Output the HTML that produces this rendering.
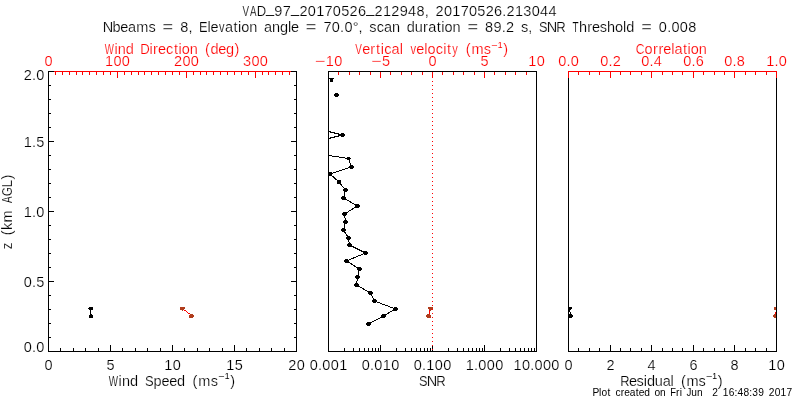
<!DOCTYPE html>
<html><head><meta charset="utf-8"><title>VAD plot</title>
<style>
html,body{margin:0;padding:0;background:#fff;width:800px;height:400px;overflow:hidden}
svg{display:block;will-change:transform}
text{font-family:"Liberation Sans",Arial,sans-serif;font-size:14.5px;font-kerning:none;font-variant-ligatures:none;stroke:#fff;stroke-width:0.2px;white-space:pre}
.u{stroke-width:0}
</style></head><body>
<svg width="800" height="400" viewBox="0 0 800 400">
<rect width="800" height="400" fill="#fff"/>
<g shape-rendering="crispEdges">
<rect x="48" y="71" width="1" height="281" fill="#000"/>
<rect x="296" y="71" width="1" height="281" fill="#000"/>
<rect x="48" y="351" width="249" height="1" fill="#000"/>
<rect x="48" y="71" width="249" height="1" fill="#000"/>
<rect x="328" y="71" width="1" height="281" fill="#000"/>
<rect x="536" y="71" width="1" height="281" fill="#000"/>
<rect x="328" y="351" width="209" height="1" fill="#000"/>
<rect x="328" y="71" width="209" height="1" fill="#000"/>
<rect x="568" y="71" width="1" height="281" fill="#000"/>
<rect x="776" y="71" width="1" height="281" fill="#000"/>
<rect x="568" y="351" width="209" height="1" fill="#000"/>
<rect x="568" y="71" width="209" height="1" fill="#000"/>
<rect x="49" y="337" width="2" height="1" fill="#000"/>
<rect x="294" y="337" width="2" height="1" fill="#000"/>
<rect x="49" y="323" width="2" height="1" fill="#000"/>
<rect x="294" y="323" width="2" height="1" fill="#000"/>
<rect x="49" y="309" width="2" height="1" fill="#000"/>
<rect x="294" y="309" width="2" height="1" fill="#000"/>
<rect x="49" y="295" width="2" height="1" fill="#000"/>
<rect x="294" y="295" width="2" height="1" fill="#000"/>
<rect x="49" y="281" width="5" height="1" fill="#000"/>
<rect x="291" y="281" width="5" height="1" fill="#000"/>
<rect x="49" y="267" width="2" height="1" fill="#000"/>
<rect x="294" y="267" width="2" height="1" fill="#000"/>
<rect x="49" y="253" width="2" height="1" fill="#000"/>
<rect x="294" y="253" width="2" height="1" fill="#000"/>
<rect x="49" y="239" width="2" height="1" fill="#000"/>
<rect x="294" y="239" width="2" height="1" fill="#000"/>
<rect x="49" y="225" width="2" height="1" fill="#000"/>
<rect x="294" y="225" width="2" height="1" fill="#000"/>
<rect x="49" y="211" width="5" height="1" fill="#000"/>
<rect x="291" y="211" width="5" height="1" fill="#000"/>
<rect x="49" y="197" width="2" height="1" fill="#000"/>
<rect x="294" y="197" width="2" height="1" fill="#000"/>
<rect x="49" y="183" width="2" height="1" fill="#000"/>
<rect x="294" y="183" width="2" height="1" fill="#000"/>
<rect x="49" y="169" width="2" height="1" fill="#000"/>
<rect x="294" y="169" width="2" height="1" fill="#000"/>
<rect x="49" y="155" width="2" height="1" fill="#000"/>
<rect x="294" y="155" width="2" height="1" fill="#000"/>
<rect x="49" y="141" width="5" height="1" fill="#000"/>
<rect x="291" y="141" width="5" height="1" fill="#000"/>
<rect x="49" y="127" width="2" height="1" fill="#000"/>
<rect x="294" y="127" width="2" height="1" fill="#000"/>
<rect x="49" y="113" width="2" height="1" fill="#000"/>
<rect x="294" y="113" width="2" height="1" fill="#000"/>
<rect x="49" y="99" width="2" height="1" fill="#000"/>
<rect x="294" y="99" width="2" height="1" fill="#000"/>
<rect x="49" y="85" width="2" height="1" fill="#000"/>
<rect x="294" y="85" width="2" height="1" fill="#000"/>
<rect x="60" y="348" width="1" height="3" fill="#000"/>
<rect x="73" y="348" width="1" height="3" fill="#000"/>
<rect x="85" y="348" width="1" height="3" fill="#000"/>
<rect x="98" y="348" width="1" height="3" fill="#000"/>
<rect x="110" y="345" width="1" height="6" fill="#000"/>
<rect x="122" y="348" width="1" height="3" fill="#000"/>
<rect x="135" y="348" width="1" height="3" fill="#000"/>
<rect x="147" y="348" width="1" height="3" fill="#000"/>
<rect x="160" y="348" width="1" height="3" fill="#000"/>
<rect x="172" y="345" width="1" height="6" fill="#000"/>
<rect x="184" y="348" width="1" height="3" fill="#000"/>
<rect x="197" y="348" width="1" height="3" fill="#000"/>
<rect x="209" y="348" width="1" height="3" fill="#000"/>
<rect x="222" y="348" width="1" height="3" fill="#000"/>
<rect x="234" y="345" width="1" height="6" fill="#000"/>
<rect x="246" y="348" width="1" height="3" fill="#000"/>
<rect x="259" y="348" width="1" height="3" fill="#000"/>
<rect x="271" y="348" width="1" height="3" fill="#000"/>
<rect x="284" y="348" width="1" height="3" fill="#000"/>
<rect x="54" y="71" width="237" height="1" fill="#ff0000"/>
<rect x="55" y="72" width="1" height="3" fill="#ff0000"/>
<rect x="62" y="72" width="1" height="3" fill="#ff0000"/>
<rect x="69" y="72" width="1" height="3" fill="#ff0000"/>
<rect x="76" y="72" width="1" height="3" fill="#ff0000"/>
<rect x="82" y="72" width="1" height="3" fill="#ff0000"/>
<rect x="89" y="72" width="1" height="3" fill="#ff0000"/>
<rect x="96" y="72" width="1" height="3" fill="#ff0000"/>
<rect x="103" y="72" width="1" height="3" fill="#ff0000"/>
<rect x="110" y="72" width="1" height="3" fill="#ff0000"/>
<rect x="117" y="72" width="1" height="6" fill="#ff0000"/>
<rect x="124" y="72" width="1" height="3" fill="#ff0000"/>
<rect x="131" y="72" width="1" height="3" fill="#ff0000"/>
<rect x="138" y="72" width="1" height="3" fill="#ff0000"/>
<rect x="144" y="72" width="1" height="3" fill="#ff0000"/>
<rect x="151" y="72" width="1" height="3" fill="#ff0000"/>
<rect x="158" y="72" width="1" height="3" fill="#ff0000"/>
<rect x="165" y="72" width="1" height="3" fill="#ff0000"/>
<rect x="172" y="72" width="1" height="3" fill="#ff0000"/>
<rect x="179" y="72" width="1" height="3" fill="#ff0000"/>
<rect x="186" y="72" width="1" height="6" fill="#ff0000"/>
<rect x="193" y="72" width="1" height="3" fill="#ff0000"/>
<rect x="200" y="72" width="1" height="3" fill="#ff0000"/>
<rect x="206" y="72" width="1" height="3" fill="#ff0000"/>
<rect x="213" y="72" width="1" height="3" fill="#ff0000"/>
<rect x="220" y="72" width="1" height="3" fill="#ff0000"/>
<rect x="227" y="72" width="1" height="3" fill="#ff0000"/>
<rect x="234" y="72" width="1" height="3" fill="#ff0000"/>
<rect x="241" y="72" width="1" height="3" fill="#ff0000"/>
<rect x="248" y="72" width="1" height="3" fill="#ff0000"/>
<rect x="255" y="72" width="1" height="6" fill="#ff0000"/>
<rect x="262" y="72" width="1" height="3" fill="#ff0000"/>
<rect x="268" y="72" width="1" height="3" fill="#ff0000"/>
<rect x="275" y="72" width="1" height="3" fill="#ff0000"/>
<rect x="282" y="72" width="1" height="3" fill="#ff0000"/>
<rect x="289" y="72" width="1" height="3" fill="#ff0000"/>
<rect x="344" y="348" width="1" height="3" fill="#000"/>
<rect x="353" y="348" width="1" height="3" fill="#000"/>
<rect x="359" y="348" width="1" height="3" fill="#000"/>
<rect x="364" y="348" width="1" height="3" fill="#000"/>
<rect x="368" y="348" width="1" height="3" fill="#000"/>
<rect x="372" y="348" width="1" height="3" fill="#000"/>
<rect x="375" y="348" width="1" height="3" fill="#000"/>
<rect x="378" y="348" width="1" height="3" fill="#000"/>
<rect x="380" y="345" width="1" height="6" fill="#000"/>
<rect x="396" y="348" width="1" height="3" fill="#000"/>
<rect x="405" y="348" width="1" height="3" fill="#000"/>
<rect x="411" y="348" width="1" height="3" fill="#000"/>
<rect x="416" y="348" width="1" height="3" fill="#000"/>
<rect x="420" y="348" width="1" height="3" fill="#000"/>
<rect x="424" y="348" width="1" height="3" fill="#000"/>
<rect x="427" y="348" width="1" height="3" fill="#000"/>
<rect x="430" y="348" width="1" height="3" fill="#000"/>
<rect x="432" y="345" width="1" height="6" fill="#000"/>
<rect x="448" y="348" width="1" height="3" fill="#000"/>
<rect x="457" y="348" width="1" height="3" fill="#000"/>
<rect x="463" y="348" width="1" height="3" fill="#000"/>
<rect x="468" y="348" width="1" height="3" fill="#000"/>
<rect x="472" y="348" width="1" height="3" fill="#000"/>
<rect x="476" y="348" width="1" height="3" fill="#000"/>
<rect x="479" y="348" width="1" height="3" fill="#000"/>
<rect x="482" y="348" width="1" height="3" fill="#000"/>
<rect x="484" y="345" width="1" height="6" fill="#000"/>
<rect x="500" y="348" width="1" height="3" fill="#000"/>
<rect x="509" y="348" width="1" height="3" fill="#000"/>
<rect x="515" y="348" width="1" height="3" fill="#000"/>
<rect x="520" y="348" width="1" height="3" fill="#000"/>
<rect x="524" y="348" width="1" height="3" fill="#000"/>
<rect x="528" y="348" width="1" height="3" fill="#000"/>
<rect x="531" y="348" width="1" height="3" fill="#000"/>
<rect x="534" y="348" width="1" height="3" fill="#000"/>
<rect x="338" y="72" width="1" height="3" fill="#ff0000"/>
<rect x="349" y="72" width="1" height="3" fill="#ff0000"/>
<rect x="359" y="72" width="1" height="3" fill="#ff0000"/>
<rect x="370" y="72" width="1" height="3" fill="#ff0000"/>
<rect x="380" y="72" width="1" height="6" fill="#ff0000"/>
<rect x="390" y="72" width="1" height="3" fill="#ff0000"/>
<rect x="401" y="72" width="1" height="3" fill="#ff0000"/>
<rect x="411" y="72" width="1" height="3" fill="#ff0000"/>
<rect x="422" y="72" width="1" height="3" fill="#ff0000"/>
<rect x="432" y="72" width="1" height="6" fill="#ff0000"/>
<rect x="442" y="72" width="1" height="3" fill="#ff0000"/>
<rect x="453" y="72" width="1" height="3" fill="#ff0000"/>
<rect x="463" y="72" width="1" height="3" fill="#ff0000"/>
<rect x="474" y="72" width="1" height="3" fill="#ff0000"/>
<rect x="484" y="72" width="1" height="6" fill="#ff0000"/>
<rect x="494" y="72" width="1" height="3" fill="#ff0000"/>
<rect x="505" y="72" width="1" height="3" fill="#ff0000"/>
<rect x="515" y="72" width="1" height="3" fill="#ff0000"/>
<rect x="526" y="72" width="1" height="3" fill="#ff0000"/>
<rect x="578" y="348" width="1" height="3" fill="#000"/>
<rect x="589" y="348" width="1" height="3" fill="#000"/>
<rect x="599" y="348" width="1" height="3" fill="#000"/>
<rect x="610" y="345" width="1" height="6" fill="#000"/>
<rect x="620" y="348" width="1" height="3" fill="#000"/>
<rect x="630" y="348" width="1" height="3" fill="#000"/>
<rect x="641" y="348" width="1" height="3" fill="#000"/>
<rect x="651" y="345" width="1" height="6" fill="#000"/>
<rect x="662" y="348" width="1" height="3" fill="#000"/>
<rect x="672" y="348" width="1" height="3" fill="#000"/>
<rect x="682" y="348" width="1" height="3" fill="#000"/>
<rect x="693" y="345" width="1" height="6" fill="#000"/>
<rect x="703" y="348" width="1" height="3" fill="#000"/>
<rect x="714" y="348" width="1" height="3" fill="#000"/>
<rect x="724" y="348" width="1" height="3" fill="#000"/>
<rect x="734" y="345" width="1" height="6" fill="#000"/>
<rect x="745" y="348" width="1" height="3" fill="#000"/>
<rect x="755" y="348" width="1" height="3" fill="#000"/>
<rect x="766" y="348" width="1" height="3" fill="#000"/>
<rect x="568" y="71" width="209" height="1" fill="#ff0000"/>
<rect x="568" y="71" width="1" height="7" fill="#ff0000"/>
<rect x="578" y="72" width="1" height="3" fill="#ff0000"/>
<rect x="589" y="72" width="1" height="3" fill="#ff0000"/>
<rect x="599" y="72" width="1" height="3" fill="#ff0000"/>
<rect x="610" y="71" width="1" height="7" fill="#ff0000"/>
<rect x="620" y="72" width="1" height="3" fill="#ff0000"/>
<rect x="630" y="72" width="1" height="3" fill="#ff0000"/>
<rect x="641" y="72" width="1" height="3" fill="#ff0000"/>
<rect x="651" y="71" width="1" height="7" fill="#ff0000"/>
<rect x="662" y="72" width="1" height="3" fill="#ff0000"/>
<rect x="672" y="72" width="1" height="3" fill="#ff0000"/>
<rect x="682" y="72" width="1" height="3" fill="#ff0000"/>
<rect x="693" y="71" width="1" height="7" fill="#ff0000"/>
<rect x="703" y="72" width="1" height="3" fill="#ff0000"/>
<rect x="714" y="72" width="1" height="3" fill="#ff0000"/>
<rect x="724" y="72" width="1" height="3" fill="#ff0000"/>
<rect x="734" y="71" width="1" height="7" fill="#ff0000"/>
<rect x="745" y="72" width="1" height="3" fill="#ff0000"/>
<rect x="755" y="72" width="1" height="3" fill="#ff0000"/>
<rect x="766" y="72" width="1" height="3" fill="#ff0000"/>
<rect x="776" y="71" width="1" height="7" fill="#ff0000"/>
<path d="M328.50 131.50 L342.50 135.00 L328.50 138.50" fill="none" stroke="#000" stroke-width="1"/>
<path d="M328.50 155.50 L348.50 158.50 L351.50 167.00 L330.00 174.00 L339.00 182.00 L345.50 190.00 L343.50 198.00 L357.50 206.00 L344.50 214.00 L345.50 222.00 L343.50 230.00 L348.50 238.00 L349.50 245.00 L365.50 253.00 L346.50 261.00 L359.50 269.00 L357.50 277.00 L356.50 285.00 L370.50 293.00 L374.50 301.00 L395.50 309.00 L383.50 316.00 L368.50 324.00" fill="none" stroke="#000" stroke-width="1"/>
<ellipse cx="342.5" cy="135.0" rx="2.5" ry="2.0" fill="#000"/>
<ellipse cx="348.5" cy="158.5" rx="2.5" ry="1.5" fill="#000"/>
<ellipse cx="351.5" cy="167.0" rx="2.5" ry="2.0" fill="#000"/>
<rect x="328" y="172" width="4" height="4" fill="#000"/>
<rect x="337" y="180" width="4" height="4" fill="#000"/>
<ellipse cx="345.5" cy="190.0" rx="2.5" ry="2.0" fill="#000"/>
<ellipse cx="343.5" cy="198.0" rx="2.5" ry="2.0" fill="#000"/>
<ellipse cx="357.5" cy="206.0" rx="2.5" ry="2.0" fill="#000"/>
<ellipse cx="344.5" cy="214.0" rx="2.5" ry="2.0" fill="#000"/>
<ellipse cx="345.5" cy="222.0" rx="2.5" ry="2.0" fill="#000"/>
<ellipse cx="343.5" cy="230.0" rx="2.5" ry="2.0" fill="#000"/>
<ellipse cx="348.5" cy="238.0" rx="2.5" ry="2.0" fill="#000"/>
<ellipse cx="349.5" cy="245.0" rx="2.5" ry="2.0" fill="#000"/>
<ellipse cx="365.5" cy="253.0" rx="2.5" ry="2.0" fill="#000"/>
<ellipse cx="346.5" cy="261.0" rx="2.5" ry="2.0" fill="#000"/>
<ellipse cx="359.5" cy="269.0" rx="2.5" ry="2.0" fill="#000"/>
<ellipse cx="357.5" cy="277.0" rx="2.5" ry="2.0" fill="#000"/>
<ellipse cx="356.5" cy="285.0" rx="2.5" ry="2.0" fill="#000"/>
<ellipse cx="370.5" cy="293.0" rx="2.5" ry="2.0" fill="#000"/>
<ellipse cx="374.5" cy="301.0" rx="2.5" ry="2.0" fill="#000"/>
<ellipse cx="395.5" cy="309.0" rx="2.5" ry="2.0" fill="#000"/>
<ellipse cx="383.5" cy="316.0" rx="2.5" ry="2.0" fill="#000"/>
<ellipse cx="368.5" cy="324.0" rx="2.5" ry="2.0" fill="#000"/>
<ellipse cx="336.5" cy="95.0" rx="2.5" ry="2.0" fill="#000"/>
<rect x="329" y="78" width="5" height="1" fill="#000"/>
<rect x="330" y="79" width="3" height="3" fill="#000"/>
<rect x="432" y="73" width="1" height="1" fill="#ff0000"/>
<rect x="432" y="77" width="1" height="1" fill="#ff0000"/>
<rect x="432" y="81" width="1" height="1" fill="#ff0000"/>
<rect x="432" y="85" width="1" height="1" fill="#ff0000"/>
<rect x="432" y="89" width="1" height="1" fill="#ff0000"/>
<rect x="432" y="93" width="1" height="1" fill="#ff0000"/>
<rect x="432" y="97" width="1" height="1" fill="#ff0000"/>
<rect x="432" y="101" width="1" height="1" fill="#ff0000"/>
<rect x="432" y="105" width="1" height="1" fill="#ff0000"/>
<rect x="432" y="109" width="1" height="1" fill="#ff0000"/>
<rect x="432" y="113" width="1" height="1" fill="#ff0000"/>
<rect x="432" y="117" width="1" height="1" fill="#ff0000"/>
<rect x="432" y="121" width="1" height="1" fill="#ff0000"/>
<rect x="432" y="125" width="1" height="1" fill="#ff0000"/>
<rect x="432" y="129" width="1" height="1" fill="#ff0000"/>
<rect x="432" y="133" width="1" height="1" fill="#ff0000"/>
<rect x="432" y="137" width="1" height="1" fill="#ff0000"/>
<rect x="432" y="141" width="1" height="1" fill="#ff0000"/>
<rect x="432" y="145" width="1" height="1" fill="#ff0000"/>
<rect x="432" y="149" width="1" height="1" fill="#ff0000"/>
<rect x="432" y="153" width="1" height="1" fill="#ff0000"/>
<rect x="432" y="157" width="1" height="1" fill="#ff0000"/>
<rect x="432" y="161" width="1" height="1" fill="#ff0000"/>
<rect x="432" y="165" width="1" height="1" fill="#ff0000"/>
<rect x="432" y="169" width="1" height="1" fill="#ff0000"/>
<rect x="432" y="173" width="1" height="1" fill="#ff0000"/>
<rect x="432" y="177" width="1" height="1" fill="#ff0000"/>
<rect x="432" y="181" width="1" height="1" fill="#ff0000"/>
<rect x="432" y="185" width="1" height="1" fill="#ff0000"/>
<rect x="432" y="189" width="1" height="1" fill="#ff0000"/>
<rect x="432" y="193" width="1" height="1" fill="#ff0000"/>
<rect x="432" y="197" width="1" height="1" fill="#ff0000"/>
<rect x="432" y="201" width="1" height="1" fill="#ff0000"/>
<rect x="432" y="205" width="1" height="1" fill="#ff0000"/>
<rect x="432" y="209" width="1" height="1" fill="#ff0000"/>
<rect x="432" y="213" width="1" height="1" fill="#ff0000"/>
<rect x="432" y="217" width="1" height="1" fill="#ff0000"/>
<rect x="432" y="221" width="1" height="1" fill="#ff0000"/>
<rect x="432" y="225" width="1" height="1" fill="#ff0000"/>
<rect x="432" y="229" width="1" height="1" fill="#ff0000"/>
<rect x="432" y="233" width="1" height="1" fill="#ff0000"/>
<rect x="432" y="237" width="1" height="1" fill="#ff0000"/>
<rect x="432" y="241" width="1" height="1" fill="#ff0000"/>
<rect x="432" y="245" width="1" height="1" fill="#ff0000"/>
<rect x="432" y="249" width="1" height="1" fill="#ff0000"/>
<rect x="432" y="253" width="1" height="1" fill="#ff0000"/>
<rect x="432" y="257" width="1" height="1" fill="#ff0000"/>
<rect x="432" y="261" width="1" height="1" fill="#ff0000"/>
<rect x="432" y="265" width="1" height="1" fill="#ff0000"/>
<rect x="432" y="269" width="1" height="1" fill="#ff0000"/>
<rect x="432" y="273" width="1" height="1" fill="#ff0000"/>
<rect x="432" y="277" width="1" height="1" fill="#ff0000"/>
<rect x="432" y="281" width="1" height="1" fill="#ff0000"/>
<rect x="432" y="285" width="1" height="1" fill="#ff0000"/>
<rect x="432" y="289" width="1" height="1" fill="#ff0000"/>
<rect x="432" y="293" width="1" height="1" fill="#ff0000"/>
<rect x="432" y="297" width="1" height="1" fill="#ff0000"/>
<rect x="432" y="301" width="1" height="1" fill="#ff0000"/>
<rect x="432" y="305" width="1" height="1" fill="#ff0000"/>
<rect x="432" y="309" width="1" height="1" fill="#ff0000"/>
<rect x="432" y="313" width="1" height="1" fill="#ff0000"/>
<rect x="432" y="317" width="1" height="1" fill="#ff0000"/>
<rect x="432" y="321" width="1" height="1" fill="#ff0000"/>
<rect x="432" y="325" width="1" height="1" fill="#ff0000"/>
<rect x="432" y="329" width="1" height="1" fill="#ff0000"/>
<rect x="432" y="333" width="1" height="1" fill="#ff0000"/>
<rect x="432" y="337" width="1" height="1" fill="#ff0000"/>
<rect x="432" y="341" width="1" height="1" fill="#ff0000"/>
<rect x="432" y="345" width="1" height="1" fill="#ff0000"/>
<rect x="432" y="349" width="1" height="1" fill="#ff0000"/>
<rect x="89" y="307" width="4" height="3" fill="#000"/>
<rect x="88" y="308" width="1" height="1" fill="#000"/>
<rect x="90" y="310" width="1" height="5" fill="#000"/>
<rect x="89" y="315" width="4" height="3" fill="#000"/>
<rect x="91" y="314" width="1" height="1" fill="#000"/>
<rect x="180" y="307" width="5" height="2" fill="#b03c1c"/>
<rect x="180" y="309" width="4" height="1" fill="#b03c1c"/>
<rect x="182" y="310" width="1" height="1" fill="#b03c1c"/>
<rect x="184" y="310" width="2" height="1" fill="#ff0000"/>
<rect x="186" y="311" width="1" height="1" fill="#ff0000"/>
<rect x="187" y="312" width="1" height="1" fill="#ff0000"/>
<rect x="188" y="313" width="2" height="1" fill="#ff0000"/>
<rect x="190" y="314" width="3" height="1" fill="#b03c1c"/>
<rect x="189" y="315" width="5" height="2" fill="#b03c1c"/>
<rect x="189" y="317" width="4" height="1" fill="#b03c1c"/>
<rect x="428" y="307" width="5" height="2" fill="#b03c1c"/>
<rect x="429" y="309" width="3" height="1" fill="#b03c1c"/>
<rect x="430" y="310" width="1" height="1" fill="#b03c1c"/>
<rect x="429" y="310" width="1" height="4" fill="#ff0000"/>
<rect x="427" y="314" width="3" height="1" fill="#b03c1c"/>
<rect x="426" y="315" width="5" height="2" fill="#b03c1c"/>
<rect x="427" y="317" width="4" height="1" fill="#b03c1c"/>
<rect x="569" y="307" width="3" height="2" fill="#000"/>
<rect x="569" y="309" width="2" height="1" fill="#000"/>
<rect x="569" y="310" width="1" height="2" fill="#000"/>
<rect x="570" y="312" width="1" height="2" fill="#000"/>
<rect x="569" y="314" width="3" height="1" fill="#000"/>
<rect x="569" y="315" width="4" height="2" fill="#000"/>
<rect x="569" y="317" width="3" height="1" fill="#000"/>
<rect x="774" y="307" width="2" height="3" fill="#b03c1c"/>
<rect x="775" y="312" width="1" height="2" fill="#ff0000"/>
<rect x="774" y="314" width="2" height="1" fill="#b03c1c"/>
<rect x="773" y="315" width="3" height="2" fill="#b03c1c"/>
<rect x="774" y="317" width="2" height="1" fill="#b03c1c"/>
</g>
<g>
<text x="242.54 250.08 256.77 266.01 274.37 282.72 291.08 299.43 307.78 316.14 324.49 332.85 341.20 349.55 357.91 366.26 374.62 382.97 391.32 399.68 408.03 416.39 424.67 430.10 435.60 443.95 452.31 460.66 469.02 477.37 485.72 494.08 502.36 506.61 514.96 523.32 531.67 540.02 548.38" y="16" dy="0 0 0 -3 3 0 -3 3 0 0 0 0 0 0 0 -3 3 0 0 0 0 0 0 0 0 0 0 0 0 0 0 0 0 0 0 0 0 0 0"><tspan textLength="6.56" lengthAdjust="spacingAndGlyphs">V</tspan><tspan textLength="6.51" lengthAdjust="spacingAndGlyphs">A</tspan><tspan textLength="9.42" lengthAdjust="spacingAndGlyphs">D</tspan><tspan class="u">_</tspan>97<tspan class="u">_</tspan>20170526<tspan class="u">_</tspan>212948, 20170526.213044</text>
<text x="102.63 112.44 120.21 127.98 136.26 148.54 157.07 162.61 174.71 180.25 188.56 194.02 199.12 207.44 210.48 218.88 224.96 233.49 238.09 241.33 249.31 258.68 264.01 271.98 279.96 288.05 291.08 300.24 305.77 317.87 323.41 331.81 340.12 344.40 352.67 358.60 364.06 369.37 376.72 384.08 392.06 401.42 406.75 414.73 423.06 428.16 436.69 441.29 444.54 452.51 461.88 467.41 479.51 485.05 493.45 501.76 506.04 515.62 520.93 528.21 533.67 538.99 546.82 556.36 566.84 572.51 578.89 587.22 592.11 599.86 607.01 614.99 623.08 626.33 635.69 641.22 653.33 658.86 667.18 671.46 679.86 688.25" y="32">Nbeams <tspan textLength="10.60" lengthAdjust="spacingAndGlyphs">=</tspan> 8, <tspan textLength="8.53" lengthAdjust="spacingAndGlyphs">E</tspan>le<tspan textLength="5.53" lengthAdjust="spacingAndGlyphs">v</tspan>ation angle <tspan textLength="10.60" lengthAdjust="spacingAndGlyphs">=</tspan> 70.0&#176;, scan duration <tspan textLength="10.60" lengthAdjust="spacingAndGlyphs">=</tspan> 89.2 s, <tspan textLength="8.51" lengthAdjust="spacingAndGlyphs">S</tspan>N<tspan textLength="9.45" lengthAdjust="spacingAndGlyphs">R</tspan> <tspan textLength="6.12" lengthAdjust="spacingAndGlyphs">T</tspan>hreshold <tspan textLength="10.60" lengthAdjust="spacingAndGlyphs">=</tspan> 0.008</text>
<text x="104.77 114.47 117.74 125.74 135.13 140.19 149.44 153.07 157.98 165.97 173.90 178.52 181.79 189.80 199.19 205.11 210.44 218.24 226.04 234.61" y="54" fill="#ff0000"><tspan textLength="9.14" lengthAdjust="spacingAndGlyphs">W</tspan>ind <tspan textLength="9.51" lengthAdjust="spacingAndGlyphs">D</tspan>irection (deg)</text>
<text x="355.28 362.19 370.36 376.05 380.68 384.17 391.59 399.72 404.39 410.39 416.33 424.25 427.54 435.77 443.29 447.11 452.28 459.80 465.75 471.43 483.79" y="54" fill="#ff0000"><tspan textLength="6.64" lengthAdjust="spacingAndGlyphs">V</tspan>ertical <tspan textLength="5.58" lengthAdjust="spacingAndGlyphs">v</tspan>elocit<tspan textLength="5.55" lengthAdjust="spacingAndGlyphs">y</tspan> (ms<tspan x="491.10 497.69" y="48" style="font-size:8.6px;stroke-width:0"><tspan textLength="6.36" lengthAdjust="spacingAndGlyphs">&#8722;</tspan>1</tspan><tspan x="503.14" y="54">)</tspan></text>
<text x="635.79 644.59 652.93 658.39 663.28 671.16 674.41 682.94 687.54 690.79 698.77" y="54" fill="#ff0000"><tspan textLength="8.86" lengthAdjust="spacingAndGlyphs">C</tspan>orrelation</text>
<text x="108.77 118.62 121.96 130.07 139.56 144.93 153.56 161.46 169.14 177.04 186.53 192.54 198.31 210.75" y="386"><tspan textLength="9.26" lengthAdjust="spacingAndGlyphs">W</tspan>ind <tspan textLength="8.66" lengthAdjust="spacingAndGlyphs">S</tspan>peed (ms<tspan x="218.10 224.69" y="379" style="font-size:8.6px;stroke-width:0"><tspan textLength="6.36" lengthAdjust="spacingAndGlyphs">&#8722;</tspan>1</tspan><tspan x="230.18" y="386">)</tspan></text>
<text x="418.96 426.80 436.34" y="386"><tspan textLength="8.52" lengthAdjust="spacingAndGlyphs">S</tspan>N<tspan textLength="9.45" lengthAdjust="spacingAndGlyphs">R</tspan></text>
<text x="620.31 628.97 636.61 643.78 646.94 654.78 662.63 670.62 675.17 680.97 686.43 698.54" y="386"><tspan textLength="9.29" lengthAdjust="spacingAndGlyphs">R</tspan>esidual (ms<tspan x="705.77 712.36" y="379" style="font-size:8.6px;stroke-width:0"><tspan textLength="6.36" lengthAdjust="spacingAndGlyphs">&#8722;</tspan>1</tspan><tspan x="717.75" y="386">)</tspan></text>
<text x="44.47" y="66" fill="#ff0000">0</text>
<text x="105.07 113.47 121.87" y="66" fill="#ff0000">100</text>
<text x="174.07 182.47 190.87" y="66" fill="#ff0000">200</text>
<text x="243.07 251.47 259.87" y="66" fill="#ff0000">300</text>
<text x="314.80 325.73 334.13" y="66" fill="#ff0000"><tspan textLength="10.60" lengthAdjust="spacingAndGlyphs">&#8722;</tspan>10</text>
<text x="371.00 381.93" y="66" fill="#ff0000"><tspan textLength="10.60" lengthAdjust="spacingAndGlyphs">&#8722;</tspan>5</text>
<text x="428.47" y="66" fill="#ff0000">0</text>
<text x="480.47" y="66" fill="#ff0000">5</text>
<text x="528.27 536.67" y="66" fill="#ff0000">10</text>
<text x="558.17 566.49 570.77" y="66" fill="#ff0000">0.0</text>
<text x="600.17 608.49 612.77" y="66" fill="#ff0000">0.2</text>
<text x="641.17 649.49 653.77" y="66" fill="#ff0000">0.4</text>
<text x="683.17 691.49 695.77" y="66" fill="#ff0000">0.6</text>
<text x="724.17 732.49 736.77" y="66" fill="#ff0000">0.8</text>
<text x="766.17 774.49 778.77" y="66" fill="#ff0000">1.0</text>
<text x="23.67 31.99 36.27" y="352">0.0</text>
<text x="23.67 31.99 36.27" y="287">0.5</text>
<text x="23.67 31.99 36.27" y="217">1.0</text>
<text x="23.67 31.99 36.27" y="147">1.5</text>
<text x="23.67 31.99 36.27" y="80">2.0</text>
<text x="44.47" y="370">0</text>
<text x="106.47" y="370">5</text>
<text x="164.27 172.67" y="370">10</text>
<text x="226.27 234.67" y="370">15</text>
<text x="288.27 296.67" y="370">20</text>
<text x="309.77 318.09 322.37 330.77 339.17" y="370">0.001</text>
<text x="361.77 370.09 374.37 382.77 391.17" y="370">0.010</text>
<text x="413.77 422.09 426.37 434.77 443.17" y="370">0.100</text>
<text x="465.77 474.09 478.37 486.77 495.17" y="370">1.000</text>
<text x="513.57 521.97 530.29 534.57 542.97 551.37" y="370">10.000</text>
<text x="564.47" y="370">0</text>
<text x="606.47" y="370">2</text>
<text x="647.47" y="370">4</text>
<text x="689.47" y="370">6</text>
<text x="730.47" y="370">8</text>
<text x="768.27 776.67" y="370">10</text>
<text transform="rotate(-90)" x="-249.21 -241.19 -235.30 -230.01 -222.57 -208.90 -203.03 -196.21 -187.45 -179.53" y="12"><tspan textLength="6.65" lengthAdjust="spacingAndGlyphs">z</tspan> (km <tspan textLength="6.54" lengthAdjust="spacingAndGlyphs">A</tspan><tspan textLength="9.24" lengthAdjust="spacingAndGlyphs">G</tspan><tspan textLength="7.67" lengthAdjust="spacingAndGlyphs">L</tspan>)</text>
<text x="592.57 599.12 601.40 607.39 611.52 615.40 620.82 624.25 629.71 635.70 638.70 644.16 650.74 654.48 660.08 666.66 670.24 675.97 679.63 682.88 686.59 691.34 696.94 703.53 708.24 712.13 718.86 722.75 728.65 734.49 737.49 743.39 749.23 752.24 758.14 764.86 768.75 774.65 780.55 786.45" y="396" style="font-size:10.2px;stroke-width:0">Plot created on <tspan textLength="5.71" lengthAdjust="spacingAndGlyphs">F</tspan>ri <tspan textLength="4.85" lengthAdjust="spacingAndGlyphs">J</tspan>un  2 16:48:39 2017</text>
</g>
</svg>
</body></html>
